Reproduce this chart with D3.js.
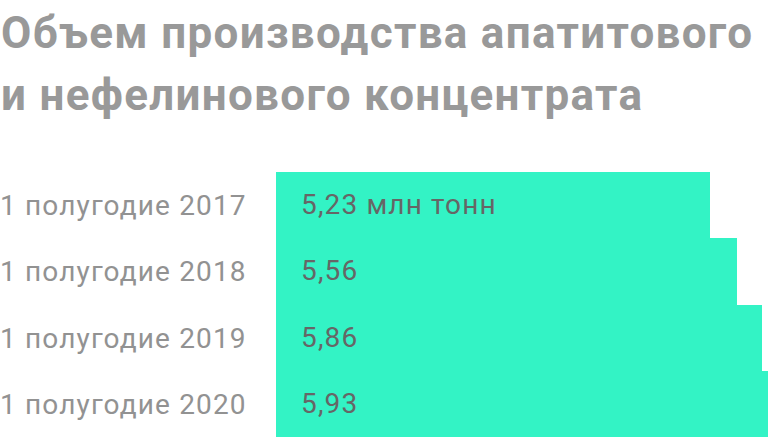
<!DOCTYPE html>
<html>
<head>
<meta charset="utf-8">
<script src="https://cdn.jsdelivr.net/npm/d3@7"></script>
<style>
  html, body { margin: 0; padding: 0; background: #fff; overflow: hidden; }
  text { font-family: Roboto, "Noto Sans", sans-serif; }
</style>
</head>
<body>
<div id="chart"></div>
<script>
// Data
const titleLines = ["Объем производства апатитового", "и нефелинового концентрата"];
const periods = ["1 полугодие 2017", "1 полугодие 2018", "1 полугодие 2019", "1 полугодие 2020"];
const values = [5.23, 5.56, 5.86, 5.93];
const valueLabels = ["5,23 млн тонн", "5,56", "5,86", "5,93"];

const width = 768, height = 437;

const svg = d3.select("#chart")
    .append("svg")
    .attr("width", width)
    .attr("height", height);

// Title
svg.selectAll("text.title")
    .data(titleLines)
    .enter()
    .append("text")
    .attr("class", "title")
    .attr("x", 1)
    .attr("y", (d, i) => 48 + i * 62)
    .attr("font-size", 44)
    .attr("font-weight", "bold")
    .attr("letter-spacing", 1.3)
    .attr("fill", "#999999")
    .text(d => d);

// Scales
const xScale = d3.scaleLinear()
    .domain([0, d3.max(values)])
    .range([275.5, width]);

const yScale = d3.scaleBand()
    .domain(periods)
    .range([172, height])
    .padding(0);

const rows = periods.map((p, i) => ({ period: p, value: values[i], label: valueLabels[i] }));

// Bars
svg.selectAll("rect.bar")
    .data(rows)
    .enter()
    .append("rect")
    .attr("class", "bar")
    .attr("x", xScale(0))
    .attr("y", d => yScale(d.period))
    .attr("width", d => xScale(d.value) - xScale(0))
    .attr("height", yScale.bandwidth() + 0.5)
    .attr("shape-rendering", "crispEdges")
    .attr("fill", "#33f3c5");

// Category labels
svg.selectAll("text.cat")
    .data(rows)
    .enter()
    .append("text")
    .attr("class", "cat")
    .attr("x", 0)
    .attr("y", d => yScale(d.period) + yScale.bandwidth() / 2 + 10)
    .attr("font-size", 28)
    .attr("letter-spacing", 1.15)
    .attr("fill", "#929292")
    .text(d => d.period);

// Value labels
svg.selectAll("text.val")
    .data(rows)
    .enter()
    .append("text")
    .attr("class", "val")
    .attr("x", 301)
    .attr("y", d => yScale(d.period) + yScale.bandwidth() / 2 + 9)
    .attr("font-size", 28)
    .attr("letter-spacing", 1.15)
    .attr("fill", "#666666")
    .text(d => d.label);
</script>
</body>
</html>
